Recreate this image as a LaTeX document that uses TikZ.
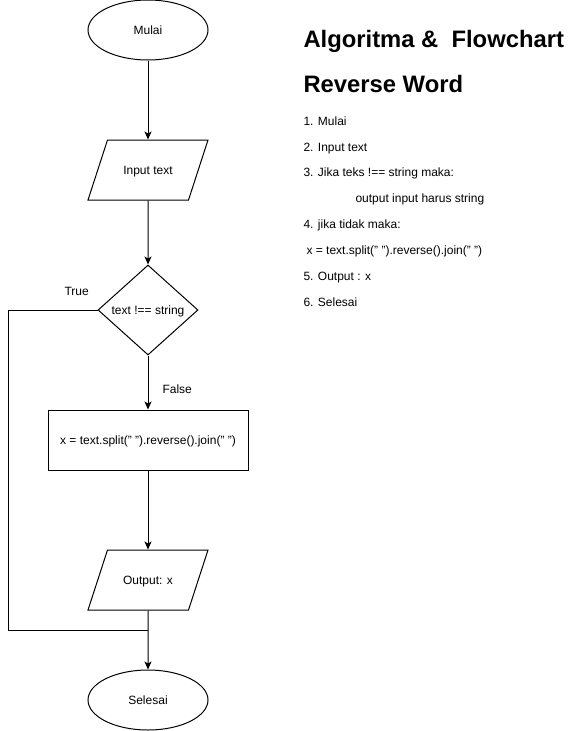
\documentclass[tikz,border=0pt]{standalone}
\usepackage{fontspec}
\setmainfont{Liberation Sans}
\usetikzlibrary{arrows.meta,positioning,shapes.geometric}

\begin{document}
\begin{tikzpicture}[
  x=1pt,y=-1pt,
  line width=1pt,
  base/.style={draw,font=\fontsize{12}{14}\selectfont,inner sep=0pt,text height=8.6pt,text depth=0pt},
  term/.style={base,ellipse,minimum width=120,minimum height=60},
  io/.style={base,trapezium,trapezium left angle=72,trapezium right angle=108,
             trapezium stretches body=true,inner ysep=25.7pt,minimum width=120,minimum height=60},
  cond/.style={base,diamond,minimum width=100,minimum height=90},
  proc/.style={base,rectangle,minimum width=200,minimum height=60},
  lbl/.style={font=\fontsize{12}{14}\selectfont,inner sep=2pt},
  judul/.style={font=\bfseries\fontsize{23.8}{27}\selectfont,anchor=west,inner sep=0pt},
  item/.style={font=\fontsize{12}{14}\selectfont,anchor=west,inner sep=0pt,text height=8.6pt,text depth=0pt},
  arr/.style={-{Stealth[length=8pt,width=7pt,inset=2pt]}}
]
\useasboundingbox (0,0) rectangle (578,731);

\node[term] (mulai)   at (148,30)  {Mulai};
\node[io]   (input)   at (148,170) {Input text};
\node[cond] (cek)     at (148,310) {text !== string};
\node[proc] (proses)  at (148,440) {x = text.split(" ").reverse().join(" ")};
\node[io]   (output)  at (148,580) {Output: x};
\node[term] (selesai) at (148,700) {Selesai};
\coordinate (kiri)   at (8,630);
\coordinate (gabung) at (148,630);

\draw[arr] (mulai) -- (input);
\draw[arr] (input) -- (cek);
\draw[arr] (cek) -- node[lbl,pos=0.63,anchor=west,xshift=12]{False} (proses);
\draw[arr] (proses) -- (output);
\draw[arr] (output) -- (selesai);
\draw (cek.west) -- node[lbl,pos=0.233,anchor=south,yshift=12]{True} (cek.west -| kiri)
  -- (kiri) -- (gabung);

\node[judul] (t1) at (303,41) {Algoritma \&\ \ Flowchart};
\node[judul] (t2) at (303,84) {Reverse Word};
\node[item] (l1) at (303,121) {1. Mulai};
\node[item] (l2) at (303,147) {2. Input text};
\node[item] (l3) at (303,172) {3. Jika teks !== string maka:};
\node[item] (l4) at (355,198) {output input harus string};
\node[item] (l5) at (303,224) {4. jika tidak maka:};
\node[item] (l6) at (306,250) {x = text.split(" ").reverse().join(" ")};
\node[item] (l7) at (303,276) {5. Output : x};
\node[item] (l8) at (303,302) {6. Selesai};
\end{tikzpicture}
\end{document}
